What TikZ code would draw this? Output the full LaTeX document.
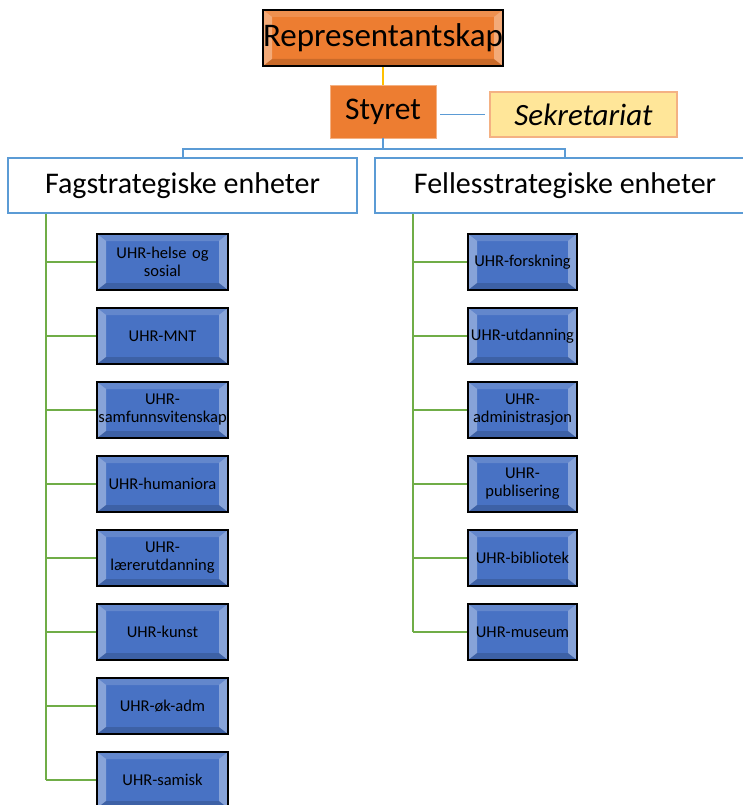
\documentclass[tikz,border=0pt]{standalone}
\usepackage{fontspec}
\setmainfont{Carlito}
\definecolor{orangeF}{RGB}{237,125,49}
\definecolor{yellowF}{RGB}{255,230,153}
\definecolor{yellowB}{RGB}{244,177,131}
\definecolor{blueL}{RGB}{91,155,213}
\definecolor{blueF}{RGB}{72,114,196}
\definecolor{greenL}{RGB}{112,173,71}
\definecolor{goldL}{RGB}{255,192,0}
\tikzset{
  bevel/.style={path picture={
    \fill[white,opacity=.35] (path picture bounding box.north west) -- (path picture bounding box.south west) -- ([xshift=9pt,yshift=7pt]path picture bounding box.south west) -- ([xshift=9pt,yshift=-7pt]path picture bounding box.north west) -- cycle;
    \fill[white,opacity=.35] (path picture bounding box.north east) -- (path picture bounding box.south east) -- ([xshift=-9pt,yshift=7pt]path picture bounding box.south east) -- ([xshift=-9pt,yshift=-7pt]path picture bounding box.north east) -- cycle;
    \fill[white,opacity=.15] (path picture bounding box.north west) -- (path picture bounding box.north east) -- ([xshift=-9pt,yshift=-7pt]path picture bounding box.north east) -- ([xshift=9pt,yshift=-7pt]path picture bounding box.north west) -- cycle;
    \fill[black,opacity=.15] (path picture bounding box.south west) -- (path picture bounding box.south east) -- ([xshift=-9pt,yshift=7pt]path picture bounding box.south east) -- ([xshift=9pt,yshift=7pt]path picture bounding box.south west) -- cycle;
  }},
  unit/.style={bevel, draw=black, line width=1.6pt, fill=blueF, minimum height=56pt, inner sep=0pt, align=center, font=\fontsize{16.5}{18}\selectfont, text width=#1},
  lunit/.style={unit=130pt, minimum width=131pt},
  runit/.style={unit=108pt, minimum width=109pt},
  group/.style={draw=blueL, line width=2.2pt, fill=white, minimum height=55pt, font=\fontsize{30}{34}\selectfont},
  blueln/.style={draw=blueL, line width=2pt},
  greenln/.style={draw=greenL, line width=2.8pt},
}
\begin{document}
\begin{tikzpicture}[x=1pt,y=-1pt]
\useasboundingbox (0,0) rectangle (742,805);
% top
\node[bevel, draw=black, line width=1.6pt, fill=orangeF, minimum width=240pt, minimum height=56pt, inner sep=0pt, font=\fontsize{33}{36}\selectfont] (rep) at (383,38) {Representantskap};
\node[fill=orangeF, draw=orangeF!60, minimum width=106pt, minimum height=53pt, inner sep=0pt, font=\fontsize{31.5}{34}\selectfont] (sty) at (383,111.5) {Styret};
\node[fill=yellowF, draw=yellowB, line width=1.6pt, minimum width=187pt, minimum height=45pt, inner sep=0pt, font=\fontsize{31}{34}\selectfont\itshape] (sek) at (583.5,114.5) {Sekretariat};
\draw[goldL, line width=2.4pt] (rep.south) -- (sty.north);
\draw[blueL, line width=1pt] ([xshift=4pt]sty.east |- sek.west) coordinate (s1) -- ([xshift=-4pt]sek.west);
% groups
\node[group, minimum width=349pt] (fag) at (182.5,185.5) {Fagstrategiske enheter};
\node[group, minimum width=380pt] (fel) at (565,185.5) {Fellesstrategiske enheter};
\coordinate (mid) at (383,149);
\draw[blueln] (sty.south) -- (mid);
\draw[blueln] (fag.north) -- (fag.north |- mid) -- (fel.north |- mid) -- (fel.north);
% left units
\foreach \i/\t in {0/{UHR-helse og\\sosial},1/{UHR-MNT},2/{UHR-\\samfunnsvitenskap},3/{UHR-humaniora},4/{UHR-\\lærerutdanning},5/{UHR-kunst},6/{UHR-øk-adm},7/{UHR-samisk}}{
  \node[lunit] (l\i) at (162.5,{262+74*\i}) {\t};
  \draw[greenln] (46,{262+74*\i}) coordinate (lb\i) -- (l\i.west);
}
\draw[greenln] (fag.south -| 46,0) -- (lb7);
% right units
\foreach \i/\t in {0/{UHR-forskning},1/{UHR-utdanning},2/{UHR-\\administrasjon},3/{UHR-\\publisering},4/{UHR-bibliotek},5/{UHR-museum}}{
  \node[runit] (r\i) at (522.5,{262+74*\i}) {\t};
  \draw[greenln] (413,{262+74*\i}) coordinate (rb\i) -- (r\i.west);
}
\draw[greenln] (fel.south -| 413,0) -- (rb5);
\end{tikzpicture}
\end{document}
